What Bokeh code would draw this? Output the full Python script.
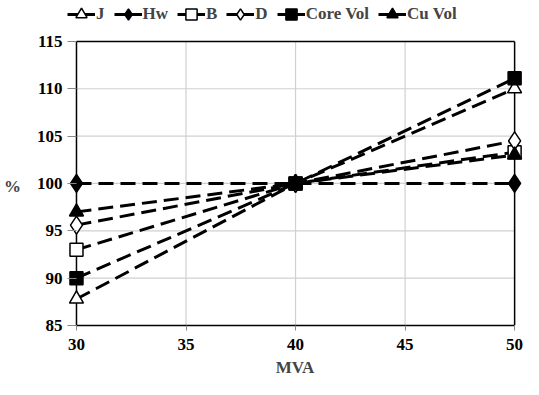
from bokeh.plotting import figure
from bokeh.models import Legend, FixedTicker
from bokeh.embed import file_html
from bokeh.resources import INLINE

mva = [30, 40, 50]
J = [87.8, 100, 110.0]
Hw = [100, 100, 100]
B = [93.0, 100, 103.3]
D = [95.6, 100, 104.5]
CoreVol = [90.0, 100, 111.1]
CuVol = [97.0, 100, 103.0]

x_ticks = [30, 35, 40, 45, 50]
y_ticks = [85, 90, 95, 100, 105, 110, 115]

series = [
    ("J", J, "triangle", "white"),
    ("Hw", Hw, "diamond", "black"),
    ("B", B, "square", "white"),
    ("D", D, "diamond", "white"),
    ("Core Vol", CoreVol, "square", "black"),
    ("Cu Vol", CuVol, "triangle", "black"),
]
sizes = {"triangle": 14, "diamond": 18, "square": 13}

FONT = "Liberation Serif"
X0, X1 = x_ticks[0], x_ticks[-1]
Y0, Y1 = y_ticks[0], y_ticks[-1]

p = figure(width=523, height=379, output_backend="svg", toolbar_location=None,
           x_range=(29.59, 50.36), y_range=(85, 119.32),
           min_border_left=63, min_border_right=1, min_border_top=0, min_border_bottom=0)
p.outline_line_color = None
p.xgrid.visible = False
p.ygrid.visible = False

# gridlines and box drawn within the 30..50 / 85..115 region
gx = x_ticks[1:-1]
gy = y_ticks[1:-1]
p.multi_line([[x, x] for x in gx], [[Y0, Y1] for _ in gx], line_color="#d0d0d0", line_width=1.2)
p.multi_line([[X0, X1] for _ in gy], [[y, y] for y in gy], line_color="#d0d0d0", line_width=1.2)
p.multi_line([[X0, X1], [X1, X1], [X0, X0]], [[Y1, Y1], [Y0, Y1], [Y0, Y1]],
             line_color="black", line_width=1.5)

items = []
for name, ys, mk, fill in series:
    p.line(mva, ys, line_color="black", line_width=3, line_dash="15 7")
    s = p.scatter(mva, ys, marker=mk, size=sizes[mk], fill_color=fill,
                  line_color="black", line_width=1.5)
    # solid line used only for the legend glyph (single point: draws nothing in the plot)
    l_leg = p.line(mva[:1], ys[:1], line_color="black", line_width=3)
    items.append((name, [l_leg, s]))

legend = Legend(items=items, orientation="horizontal", location="top_left",
                label_text_font=FONT, label_text_font_style="bold",
                label_text_font_size="17px", glyph_width=28, glyph_height=28,
                label_width=0, spacing=9, label_standoff=1, padding=0, margin=0,
                border_line_color=None, background_fill_alpha=0)
p.add_layout(legend)

for ax in (p.xaxis, p.yaxis):
    ax.major_label_text_font = FONT
    ax.major_label_text_font_style = "bold"
    ax.major_label_text_font_size = "17px"
    ax.axis_label_text_font = FONT
    ax.axis_label_text_font_style = "bold"
    ax.axis_label_text_font_size = "17px"
    ax.minor_tick_line_color = None
    ax.major_tick_line_color = "#888888"
    ax.major_label_text_color = "black"

p.xaxis.major_tick_in = 0
p.xaxis.major_tick_out = 5
p.xaxis.axis_line_color = "black"
p.xaxis.axis_line_width = 1.5
p.yaxis.major_tick_in = 9
p.yaxis.major_tick_out = 0
p.yaxis.axis_line_color = None

p.xaxis.ticker = FixedTicker(ticks=x_ticks)
p.yaxis.ticker = FixedTicker(ticks=y_ticks)
p.xaxis.bounds = (X0, X1)
p.yaxis.bounds = (Y0, Y1)
p.xaxis.axis_label = "MVA"
p.yaxis.axis_label = "\n\n%"
p.yaxis.axis_label_text_line_height = 1.25
p.yaxis.axis_label_orientation = "horizontal"
p.yaxis.axis_label_standoff = 13
p.yaxis.major_label_standoff = 5
p.xaxis.major_label_standoff = 8
p.xaxis.axis_label_standoff = 5

open("out.html", "w").write(file_html(p, INLINE))
